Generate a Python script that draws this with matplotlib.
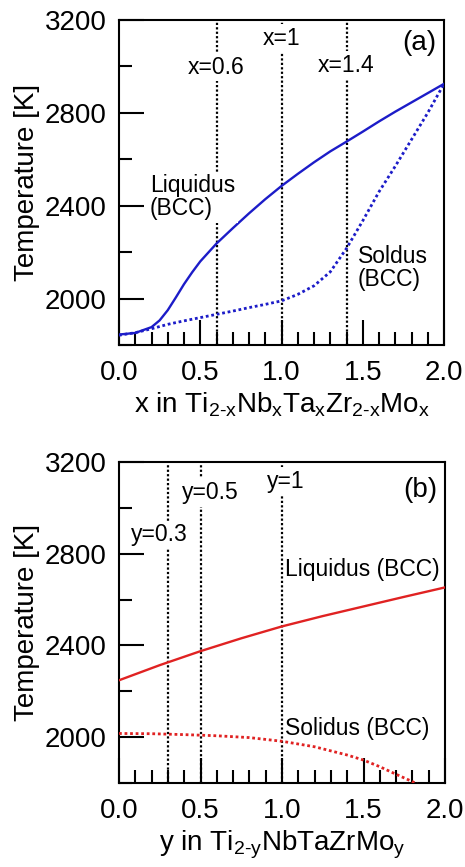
import matplotlib
matplotlib.use("Agg")
import matplotlib.pyplot as plt
from matplotlib.ticker import MultipleLocator

plt.rcParams['font.family'] = ['Liberation Sans', 'DejaVu Sans']
plt.rcParams['mathtext.fontset'] = 'custom'
plt.rcParams['mathtext.rm'] = 'Liberation Sans'
plt.rcParams['mathtext.it'] = 'Liberation Sans'
plt.rcParams['mathtext.default'] = 'regular'

# (a) Ti(2-x)Nb(x)Ta(x)Zr(2-x)Mo(x)
x_liq = [0.0, 0.1, 0.2, 0.25, 0.3, 0.35, 0.4, 0.45, 0.5, 0.6, 0.7, 0.8, 0.9,
         1.0, 1.1, 1.2, 1.3, 1.4, 1.5, 1.6, 1.7, 1.8, 1.9, 2.0]
t_liq_a = [1845, 1852, 1877, 1906, 1950, 2005, 2062, 2113, 2160, 2237, 2303, 2367, 2428,
           2485, 2537, 2587, 2634, 2676, 2719, 2763, 2805, 2845, 2885, 2925]
x_sol = [0.0, 0.1, 0.2, 0.3, 0.4, 0.5, 0.6, 0.7, 0.8, 0.9, 1.0,
         1.1, 1.2, 1.3, 1.4, 1.5, 1.6, 1.7, 1.8, 1.9, 2.0]
t_sol_a = [1842, 1853, 1870, 1889, 1904, 1918, 1932, 1946, 1961, 1975, 1990,
           2018, 2055, 2115, 2216, 2335, 2460, 2570, 2685, 2800, 2925]
x_marks_a = [0.6, 1.0, 1.4]

# (b) Ti(2-y)NbTaZrMo(y)
y_liq = [0.0, 0.25, 0.5, 0.75, 1.0, 1.25, 1.5, 1.75, 2.0]
t_liq_b = [2248, 2314, 2375, 2431, 2483, 2528, 2570, 2612, 2653]
y_sol = [0.0, 0.2, 0.4, 0.6, 0.8, 1.0, 1.2, 1.4, 1.5, 1.6, 1.7, 1.8, 1.9]
t_sol_b = [2016, 2015, 2011, 2006, 1998, 1982, 1958, 1922, 1900, 1871, 1838, 1806, 1770]
y_marks_b = [0.3, 0.5, 1.0]

blue = '#1c1cc8'
red = '#e02222'
dots = (0, (1, 1))
box = dict(facecolor='white', edgecolor='none', pad=2)
fs_note = 16.5

fig = plt.figure(figsize=(4.65, 8.67), dpi=100)
ax1 = fig.add_axes([119/465, 1-345/867, 325/465, 325/867])
ax2 = fig.add_axes([119/465, 1-783/867, 326/465, 321/867])


def style(ax):
    ax.set_xlim(0, 2.0)
    ax.set_ylim(1800, 3200)
    ax.xaxis.set_major_locator(MultipleLocator(0.5))
    ax.xaxis.set_minor_locator(MultipleLocator(0.1))
    ax.yaxis.set_major_locator(MultipleLocator(400))
    ax.yaxis.set_minor_locator(MultipleLocator(200))
    ax.set_yticks([2000, 2400, 2800, 3200])
    ax.tick_params(which='both', direction='in', top=False, right=False, width=1.5)
    ax.tick_params(which='major', length=18, labelsize=20)
    ax.tick_params(which='minor', length=9.5)
    ax.tick_params(axis='x', pad=11)
    ax.tick_params(axis='y', pad=9)
    for s in ax.spines.values():
        s.set_linewidth(1.5)
    ax.xaxis.set_major_formatter(matplotlib.ticker.FormatStrFormatter('%.1f'))
    ax.set_ylabel('Temperature [K]', fontsize=20, labelpad=3)


style(ax1)
for xv in x_marks_a:
    ax1.axvline(xv, color='k', lw=1.6, ls=dots, zorder=1)
ax1.plot(x_liq, t_liq_a, color=blue, lw=1.7, zorder=3)
ax1.plot(x_sol, t_sol_a, color=blue, lw=2, ls=dots, zorder=3)
ax1.text(0.6, 2997, 'x=0.6', fontsize=fs_note, ha='center', va='center', bbox=box, zorder=4)
ax1.text(1.0, 3121, 'x=1', fontsize=fs_note, ha='center', va='center', bbox=box, zorder=4)
ax1.text(1.4, 3006, 'x=1.4', fontsize=fs_note, ha='center', va='center', bbox=box, zorder=4)
ax1.text(1.85, 3099, '(a)', fontsize=20, ha='center', va='center')
ax1.text(0.19, 2436, 'Liquidus\n(BCC)', fontsize=fs_note, ha='left', va='center',
         linespacing=1.0, bbox=box, zorder=4)
ax1.text(1.47, 2130, 'Soldus\n(BCC)', fontsize=fs_note, ha='left', va='center',
         linespacing=1.0)
ax1.set_xlabel(r'x in Ti$_{\text{2-x}}$Nb$_{x}$Ta$_{x}$Zr$_{\text{2-x}}$Mo$_{x}$',
               fontsize=20, labelpad=3)

style(ax2)
for yv in y_marks_b:
    ax2.axvline(yv, color='k', lw=1.6, ls=dots, zorder=1)
ax2.plot(y_liq, t_liq_b, color=red, lw=1.7, zorder=3)
ax2.plot(y_sol, t_sol_b, color=red, lw=2, ls=dots, zorder=3)
ax2.text(0.25, 2882, 'y=0.3', fontsize=fs_note, ha='center', va='center', bbox=box, zorder=4)
ax2.text(0.56, 3068, 'y=0.5', fontsize=fs_note, ha='center', va='center', bbox=box, zorder=4)
ax2.text(1.025, 3114, 'y=1', fontsize=fs_note, ha='center', va='center', bbox=box, zorder=4)
ax2.text(1.85, 3078, '(b)', fontsize=20, ha='center', va='center')
ax2.text(1.02, 2729, 'Liquidus (BCC)', fontsize=fs_note, ha='left', va='center')
ax2.text(1.02, 2038, 'Solidus (BCC)', fontsize=fs_note, ha='left', va='center')
ax2.set_xlabel(r'y in Ti$_{\text{2-y}}$NbTaZrMo$_{y}$', fontsize=20, labelpad=3)

fig.savefig('out.png', dpi=100)
